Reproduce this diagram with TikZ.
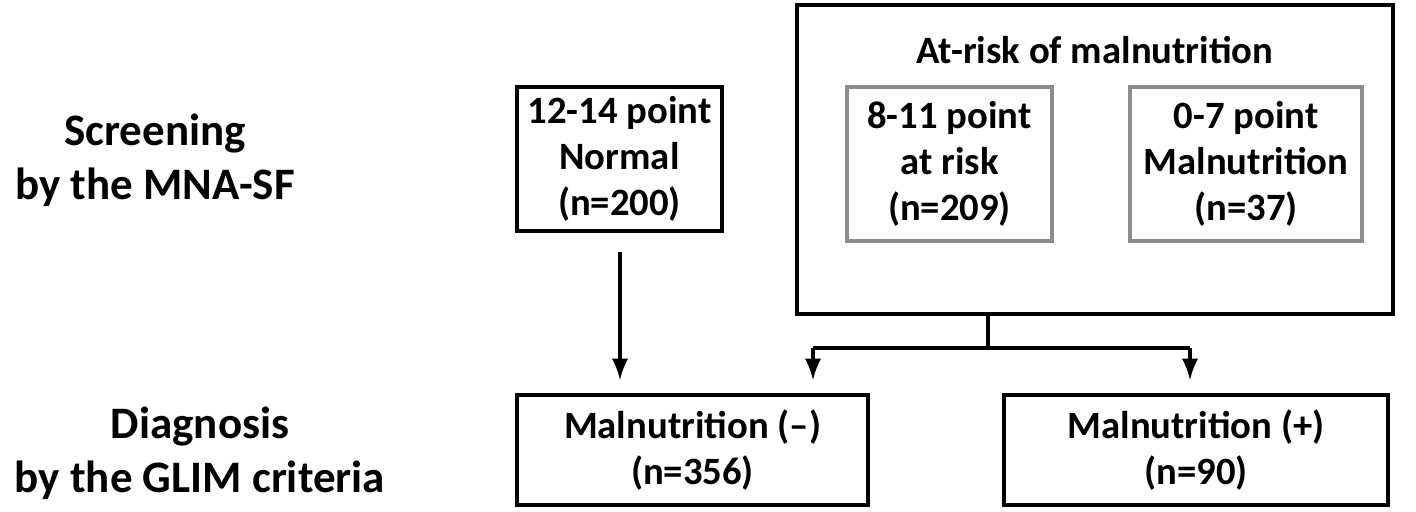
\documentclass[tikz,border=0pt]{standalone}
\usepackage{fontspec}
\setmainfont{Carlito}
\usetikzlibrary{calc}
\begin{document}
\begin{tikzpicture}[x=0.01cm,y=-0.01cm,
  txt/.style={font=\fontsize{11}{13}\selectfont\bfseries,align=center},
  side/.style={font=\fontsize{12.8}{15.5}\selectfont\bfseries,align=center},
  blackbox/.style={draw=black,line width=1.1pt},
  graybox/.style={draw=black!45,line width=1.3pt},
  link/.style={line width=1.1pt},
  arr/.style={link,-latex}]

\useasboundingbox (0,0) rectangle (1416,511);

% left labels
\node[side] (screen) at (155,160) {Screening\\by the MNA-SF};
\node[side] (diag) at (200,453) {Diagnosis\\by the GLIM criteria};

% MNA-SF groups
\draw[blackbox] (517,87) rectangle (722,231);
\node[txt] (normal) at (619.5,159) {12-14 point\\Normal\\(n=200)};

\draw[blackbox] (797,5) rectangle (1393,314);
\node[txt] (atrisk) at (1095,50) {At-risk of malnutrition};
\draw[graybox] (847,87) rectangle (1052,241);
\node[txt] (risk) at (949.5,164) {8-11 point\\at risk\\(n=209)};
\draw[graybox] (1130,87) rectangle (1362,241);
\node[txt] (mal) at (1246,164) {0-7 point\\Malnutrition\\(n=37)};

% GLIM groups
\draw[blackbox] (517,395) rectangle (868,505);
\node[txt] (neg) at (692.5,450) {Malnutrition (--)\\(n=356)};
\draw[blackbox] (1004,395) rectangle (1388,505);
\node[txt] (pos) at (1196,450) {Malnutrition (+)\\(n=90)};

% connectors
\coordinate (top) at (988,314);
\coordinate (split) at (988,348);
\coordinate (l) at (813,348);
\coordinate (r) at (1190,348);
\draw[arr] (620,252) -- (620,380);
\draw[link] (top) -- (split);
\draw[link] (l) -- (r);
\draw[arr] (l) -- (813,380);
\draw[arr] (r) -- (1190,380);
\end{tikzpicture}
\end{document}
